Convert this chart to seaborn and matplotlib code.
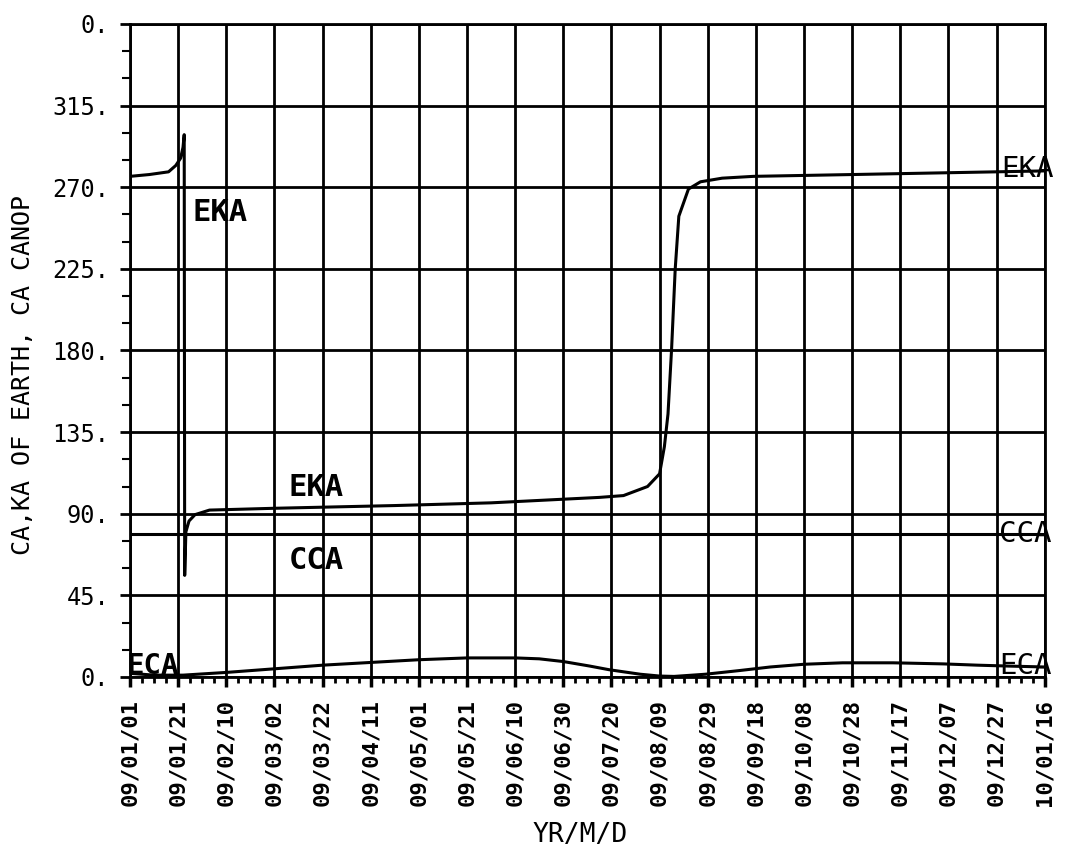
import numpy as np
import pandas as pd
import matplotlib
matplotlib.use("Agg")
import matplotlib.pyplot as plt
import seaborn as sns

# start of the run, x values are days after this date
start = pd.Timestamp("2009-01-01")

# EKA curve (days, degrees)
eka_days = [0, 8, 16, 19, 21, 22, 22.5, 22.7, 23.2, 24.5, 27, 33, 60, 110, 150,
            195, 205, 215, 220, 222, 223.5, 225, 226.5, 228, 232, 237, 246, 259,
            300, 340, 380]
eka_vals = [276, 277, 278.5, 282, 286, 292, 299, 56, 80, 86, 89.5, 92, 93, 94.5, 96,
            99, 100, 105, 112, 127, 145, 181, 225, 254, 269, 273, 275, 276,
            277, 278, 279]

# CCA curve
cca_days = [0, 380]
cca_vals = [79, 79]

# ECA curve
eca_days = [0, 10, 22, 40, 60, 80, 100, 120, 140, 160, 170, 180, 191, 199, 212,
            220, 226, 239, 253, 266, 280, 296, 317, 338, 352, 365, 380]
eca_vals = [2, 1, 1, 2.5, 4.5, 6.5, 8, 9.5, 10.5, 10.5, 10, 8.5, 6, 4, 1.5,
            0.5, 0.3, 1.5, 3.5, 5.5, 7, 7.8, 7.8, 7.2, 6.5, 6, 5.5]

# axis ticks
tick_dates = pd.date_range("2009-01-01", "2010-01-16", freq="20D")
minor_dates = pd.date_range("2009-01-01", "2010-01-16", freq="5D")
y_ticks = [0, 45, 90, 135, 180, 225, 270, 315, 360]
y_labels = ["0.", "45.", "90.", "135.", "180.", "225.", "270.", "315.", "0."]


def to_dates(days):
    return start + pd.to_timedelta(days, unit="D")


sns.set_style("white")
plt.rcParams['font.family'] = ['DejaVu Sans Mono', 'DejaVu Sans']
plt.rcParams['text.color'] = 'black'
plt.rcParams['axes.labelcolor'] = 'black'
plt.rcParams['xtick.color'] = 'black'
plt.rcParams['ytick.color'] = 'black'

fig = plt.figure(figsize=(10.66, 8.48), dpi=100)
ax = fig.add_axes([0.122, 0.2017, 0.858, 0.770])

for days, vals in [(eka_days, eka_vals), (cca_days, cca_vals), (eca_days, eca_vals)]:
    df = pd.DataFrame({"date": to_dates(days), "val": vals})
    sns.lineplot(data=df, x="date", y="val", color="black", linewidth=2.2,
                 sort=False, ax=ax)

ax.set_xlim(tick_dates[0], tick_dates[-1])
ax.set_ylim(0, 360)

ax.set_xticks(tick_dates)
ax.set_xticklabels([d.strftime("%y/%m/%d") for d in tick_dates], rotation=90,
                   fontsize=16, fontweight="bold")
ax.set_xticks(minor_dates, minor=True)
ax.set_yticks(y_ticks)
ax.set_yticklabels(y_labels, fontsize=17)
ax.set_yticks(np.arange(0, 361, 15), minor=True)

ax.tick_params(axis="x", which="major", direction="out", length=7, width=2.5, pad=9, bottom=True)
ax.tick_params(axis="x", which="minor", direction="out", length=4, width=2, bottom=True)
ax.tick_params(axis="y", which="major", direction="out", length=7, width=2, pad=8, left=True)
ax.tick_params(axis="y", which="minor", direction="out", length=6, width=1.5, left=True)

ax.grid(True, which="major", color="black", linewidth=2.0)
for s in ax.spines.values():
    s.set_color("black")
    s.set_linewidth(2.0)

ax.set_xlabel("YR/M/D", fontsize=19)
ax.xaxis.set_label_coords(0.492, -0.222)
ax.set_ylabel("CA,KA OF EARTH, CA CANOP", fontsize=18)
ax.yaxis.set_label_coords(-0.104, 0.4625)

# curve labels
ax.text(to_dates(26), 256, "EKA", fontsize=22, fontweight="bold", va="center", ha="left")
ax.text(to_dates(66), 104.5, "EKA", fontsize=22, fontweight="bold", va="center", ha="left")
ax.text(to_dates(66), 64, "CCA", fontsize=22, fontweight="bold", va="center", ha="left")
ax.text(to_dates(362), 280, "EKA", fontsize=21, va="center", ha="left", clip_on=False)
ax.text(to_dates(361), 79, "CCA", fontsize=21, va="center", ha="left", clip_on=False)
ax.text(to_dates(361), 6, "ECA", fontsize=21, va="center", ha="left", clip_on=False)
ax.text(to_dates(-1.5), 6, "ECA", fontsize=21, fontweight="bold", va="center", ha="left", clip_on=False)

plt.savefig("out.png", dpi=100)
plt.close()
